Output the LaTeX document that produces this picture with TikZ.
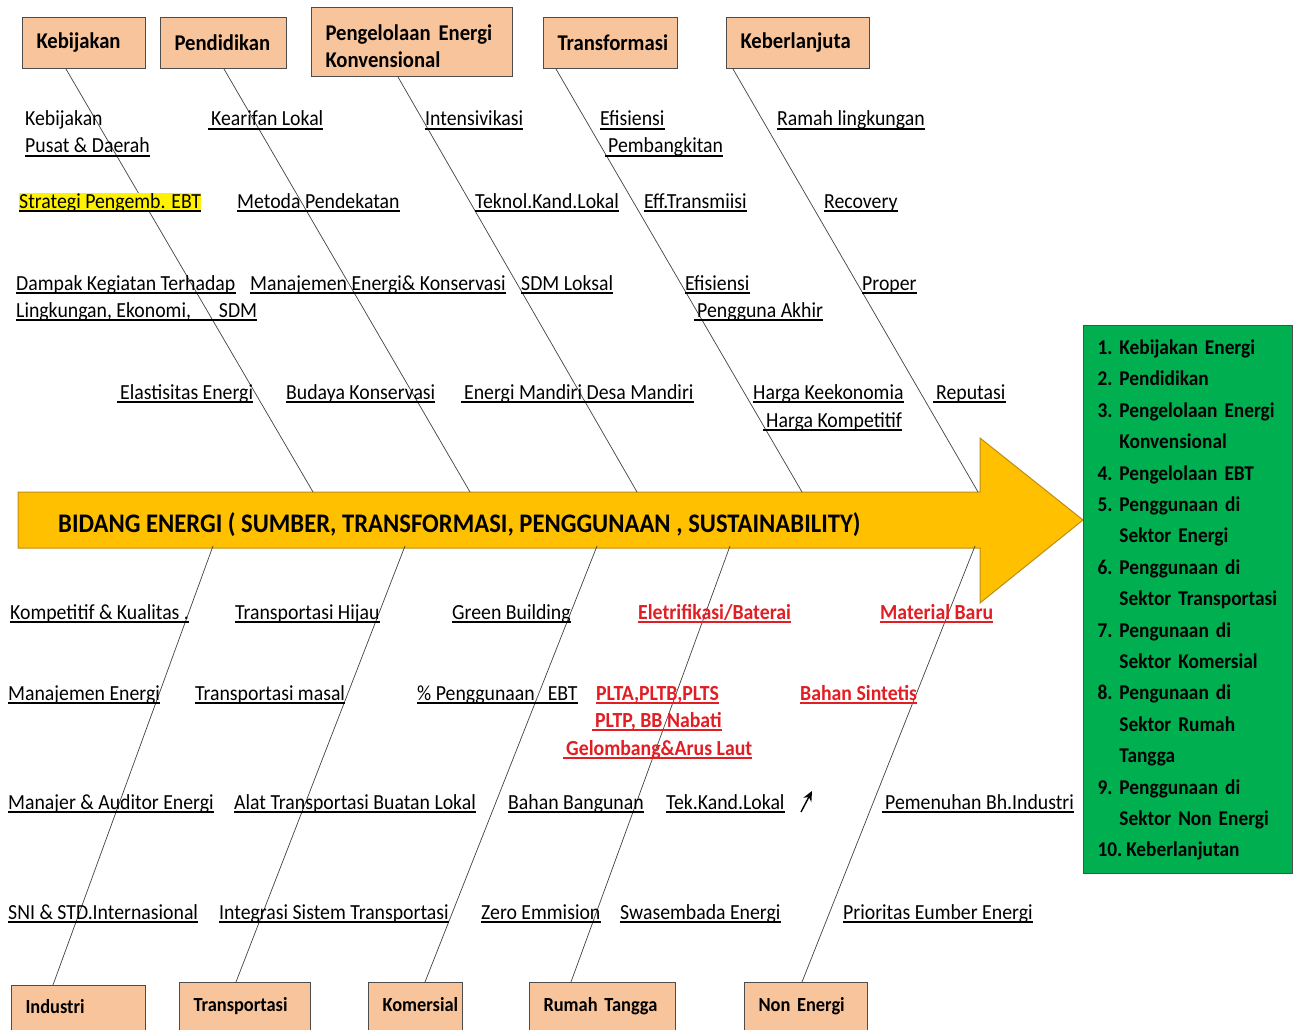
\documentclass[tikz,border=0pt]{standalone}
\usepackage{fontspec}
\setmainfont{Carlito}[FakeStretch=0.92]
\usetikzlibrary{arrows.meta}
\definecolor{boxpeach}{RGB}{248,196,155}
\definecolor{arrowgold}{RGB}{255,192,0}
\definecolor{arrowedge}{RGB}{190,140,20}
\definecolor{listgreen}{RGB}{0,176,80}
\definecolor{ebtred}{RGB}{225,30,35}

\begin{document}
\begin{tikzpicture}[x=1pt,y=-1pt,
  bone/.style={draw=black!75,line width=0.7pt},
  cause/.style={draw=black!70,fill=boxpeach,line width=1pt,anchor=north west,align=left,
    inner xsep=14pt,font=\fontsize{22.5}{27}\selectfont\bfseries},
  effect/.style={cause,inner ysep=0pt,text height=29pt,text depth=45pt,font=\fontsize{20}{24}\selectfont\bfseries},
  plain/.style={anchor=base west,inner sep=0pt,font=\fontsize{21.5}{27}\selectfont},
  lbl/.style={plain,append after command={([yshift=-3pt]\tikzlastnode.base west)
    edge[draw=black,line width=1.4pt] ([yshift=-3pt]\tikzlastnode.base east)}},
  ebt/.style={plain,text=ebtred,font=\fontsize{21.5}{27}\selectfont\bfseries,
    append after command={([yshift=-3pt]\tikzlastnode.base west)
    edge[draw=ebtred,line width=1.4pt] ([yshift=-3pt]\tikzlastnode.base east)}}]
  \useasboundingbox (0,0) rectangle (1299,1030);

  \node[cause,text width=95pt,minimum height=51pt] (kebijakan) at (22,17) {Kebijakan};
  \node[cause,text width=98pt,minimum height=51pt] (pendidikan) at (160,17) {Pendidikan};
  \node[cause,text width=173pt,minimum height=69pt] (pengelolaan) at (311,7)
    {\rule{0pt}{25pt}\mbox{Pengelolaan\hspace{8pt}Energi}\\Konvensional};
  \node[cause,text width=106pt,minimum height=51pt] (transformasi) at (543,17) {Transformasi};
  \node[cause,text width=115pt,minimum height=51pt] (keberlanjuta) at (726,17) {Keberlanjuta};

  \node[effect,text width=106pt,text height=28pt] (industri) at (11,985) {Industri};
  \node[effect,text width=103pt] (transportasi) at (179,982) {Transportasi};
  \node[effect,text width=66pt] (komersial) at (368,982) {Komersial};
  \node[effect,text width=118pt] (rumah) at (529,982) {\mbox{Rumah Tangga}};
  \node[effect,text width=95pt] (nonenergi) at (744,982) {\mbox{Non Energi}};

  \filldraw[fill=arrowgold,draw=arrowedge,line width=1pt] (18,492) -- (980,492) -- (980,438) -- (1083,520)
    -- (980,603) -- (980,548) -- (18,548) -- cycle;
  \node[anchor=base west,inner sep=0pt,font=\fontsize{26.8}{32}\selectfont\bfseries] (bidang) at (58,532)
    {BIDANG ENERGI ( SUMBER, TRANSFORMASI, PENGGUNAAN , SUSTAINABILITY)};

  \coordinate (a1) at (313,492);
  \coordinate (a2) at (470,492);
  \coordinate (a3) at (637,492);
  \coordinate (a4) at (802,492);
  \coordinate (a5) at (978,492);
  \coordinate (b1) at (213,546);
  \coordinate (b2) at (405,546);
  \coordinate (b3) at (597,546);
  \coordinate (b4) at (730,546);
  \coordinate (b5) at (975,546);
  \draw[bone] ([xshift=44pt]kebijakan.south west) -- (a1);
  \draw[bone] ([xshift=64pt]pendidikan.south west) -- (a2);
  \draw[bone] ([xshift=87pt]pengelolaan.south west) -- (a3);
  \draw[bone] ([xshift=13pt]transformasi.south west) -- (a4);
  \draw[bone] ([xshift=7pt]keberlanjuta.south west) -- (a5);
  \draw[bone] (b1) -- ([xshift=42pt]industri.north west);
  \draw[bone] (b2) -- ([xshift=57pt]transportasi.north west);
  \draw[bone] (b3) -- ([xshift=57pt]komersial.north west);
  \draw[bone] (b4) -- ([xshift=42pt]rumah.north west);
  \draw[bone] (b5) -- ([xshift=58pt]nonenergi.north west);

  \node[plain] (kb1) at (25,126) {Kebijakan};
  \node[lbl] (kb2) at (25,153) {Pusat \& Daerah};
  \node[lbl,fill=yellow] (kb3) at (19,208) {Strategi Pengemb. EBT};
  \node[lbl] (kb4) at (16,290) {Dampak Kegiatan Terhadap};
  \node[lbl] (kb5) at (16,317) {Lingkungan, Ekonomi,\hspace{28pt}SDM};
  \node[lbl] (kb6) at (117,399) {\hspace{3pt}Elastisitas Energi};
  \node[lbl] (pd1) at (208,126) {\hspace{3pt}Kearifan Lokal};
  \node[lbl] (pd2) at (237,208) {Metoda Pendekatan};
  \node[lbl] (pd3) at (250,290) {Manajemen Energi\& Konservasi};
  \node[lbl] (pd4) at (286,399) {Budaya Konservasi};
  \node[lbl] (pk1) at (425,126) {Intensivikasi};
  \node[lbl] (pk2) at (475,208) {Teknol.Kand.Lokal};
  \node[lbl] (pk3) at (521,290) {SDM Loksal};
  \node[lbl] (pk4) at (461,399) {\hspace{3pt}Energi Mandiri Desa Mandiri};
  \node[lbl] (tf1) at (600,126) {Efisiensi};
  \node[lbl] (tf2) at (605,153) {\hspace{3pt}Pembangkitan};
  \node[lbl] (tf3) at (644,208) {Eff.Transmiisi};
  \node[lbl] (tf4) at (685,290) {Efisiensi};
  \node[lbl] (tf5) at (694,317) {\hspace{3pt}Pengguna Akhir};
  \node[lbl] (tf6) at (753,399) {Harga Keekonomia};
  \node[lbl] (tf7) at (763,427) {\hspace{3pt}Harga Kompetitif};
  \node[lbl] (kl1) at (777,126) {Ramah lingkungan};
  \node[lbl] (kl2) at (824,208) {Recovery};
  \node[lbl] (kl3) at (862,290) {Proper};
  \node[lbl] (kl4) at (933,399) {\hspace{3pt}Reputasi};

  \node[lbl] (in1) at (10,619) {Kompetitif \& Kualitas .};
  \node[lbl] (in2) at (8,700) {Manajemen Energi};
  \node[lbl] (in3) at (8,809) {Manajer \& Auditor Energi};
  \node[lbl] (in4) at (8,919) {SNI \& STD.Internasional};
  \node[lbl] (tr1) at (235,619) {Transportasi Hijau};
  \node[lbl] (tr2) at (195,700) {Transportasi masal};
  \node[lbl] (tr3) at (234,809) {Alat Transportasi Buatan Lokal};
  \node[lbl] (tr4) at (219,919) {Integrasi Sistem Transportasi};
  \node[lbl] (km1) at (452,619) {Green Building};
  \node[lbl] (km2) at (417,700) {\% Penggunaan\hspace{13pt}EBT};
  \node[lbl] (km3) at (508,809) {Bahan Bangunan};
  \node[lbl] (km4) at (481,919) {Zero Emmision};
  \node[ebt] (rt1) at (638,619) {Eletrifikasi/Baterai};
  \node[ebt] (rt2) at (596,700) {PLTA,PLTB,PLTS};
  \node[ebt] (rt3) at (592,727) {\hspace{3pt}PLTP, BB Nabati};
  \node[ebt] (rt4) at (563,755) {\hspace{3pt}Gelombang\&Arus Laut};
  \node[lbl] (rt5) at (666,809) {Tek.Kand.Lokal\hspace{24pt}};
  \node[lbl] (rt6) at (620,919) {Swasembada Energi};
  \node[ebt] (ne1) at (880,619) {Material Baru};
  \node[ebt] (ne2) at (800,700) {Bahan Sintetis};
  \node[lbl] (ne3) at (882,809) {\hspace{3pt}Pemenuhan Bh.Industri};
  \node[lbl] (ne4) at (843,919) {Prioritas Eumber Energi};
  \coordinate (tk1) at (801,812);
  \coordinate (tk2) at (812,791);
  \draw[-{Stealth[length=10pt,width=9pt]},line width=1.4pt] (tk1) -- (tk2);

  \node[draw=black!70,fill=listgreen,line width=1pt,anchor=north west,text width=181pt,
    inner xsep=14pt,inner ysep=7pt,font=\fontsize{21}{31.4}\selectfont\bfseries] (sasaran) at (1083,325)
    {\begin{tabular}{@{}l@{\hspace{7pt}}l@{}}
      1. & Kebijakan Energi\\
      2. & Pendidikan\\
      3. & Pengelolaan Energi\\
         & Konvensional\\
      4. & Pengelolaan EBT\\
      5. & Penggunaan di\\
         & Sektor Energi\\
      6. & Penggunaan di\\
         & Sektor Transportasi\\
      7. & Pengunaan di\\
         & Sektor Komersial\\
      8. & Pengunaan di\\
         & Sektor Rumah\\
         & Tangga\\
      9. & Penggunaan di\\
         & Sektor Non Energi\\
      \multicolumn{2}{@{}l@{}}{10.\hspace{4pt}Keberlanjutan}
    \end{tabular}};
\end{tikzpicture}
\end{document}
